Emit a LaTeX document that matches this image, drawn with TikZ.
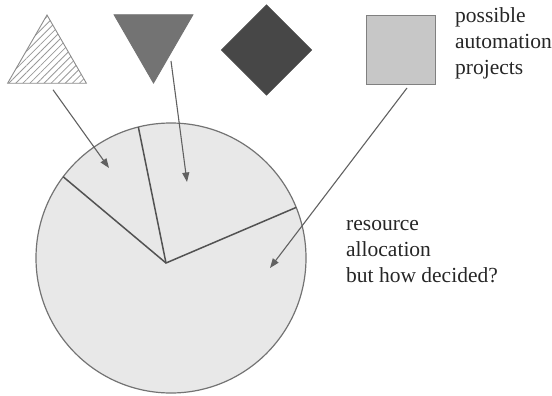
\documentclass[tikz,border=0pt]{standalone}
\usepackage{fontspec}
\setmainfont{Liberation Serif}
\usepackage{xcolor}
\usepackage{tikz}
\usetikzlibrary{positioning,shapes.geometric,patterns.meta,arrows.meta}

\begin{document}
\begin{tikzpicture}[
  x=1pt, y=-1pt,
  proj/.style={draw, inner sep=0pt, outer sep=0pt, line width=0.9pt},
  tri/.style={proj, regular polygon, regular polygon sides=3, minimum size=91pt},
  lbl/.style={font=\fontsize{21.5}{26}\selectfont, text=black!85, align=left, inner sep=0pt, anchor=north west},
  arr/.style={-{Triangle[length=9.5pt,width=7pt]}, line width=1.1pt, draw=black!62},
  slice/.style={line width=1.5pt, draw=black!68}
]
  \useasboundingbox (0,0) rectangle (552,396);

  % ===== PROJECTS =====
  \node[tri, pattern={Lines[angle=45,distance=5pt,line width=0.8pt]}, pattern color=black!40, draw=black!45] (hatch) at (47,60.5) {};
  \node[tri, shape border rotate=180, fill=black!55, draw=black!55] (inv) at (153.5,37.5) {};
  \node[proj, diamond, minimum width=90pt, minimum height=90pt, fill=black!72, draw=black!72] (dia) at (266.5,50) {};
  \node[proj, rectangle, minimum size=69pt, fill=black!22, draw=black!50] (sq) at (400.5,49.5) {};

  \node[lbl] (projlbl) at (455,7) {possible\\automation\\projects};

  % ===== RESOURCES =====
  \node[circle, minimum size=270pt, inner sep=0pt, outer sep=0pt, fill=black!9, draw=black!55, line width=1.2pt] (pie) at (171,258) {};
  \coordinate (hub) at ([shift={(-5,5)}]pie.center);
  \draw[slice] (pie.143.5) -- (hub) -- (pie.22.4);
  \draw[slice] (pie.104.5) -- (hub);

  \node[lbl] (alloclbl) at (346,220.5) {resource\\allocation\\but how decided?};

  % arrows into the pie
  \coordinate (tipA) at (109,168);
  \coordinate (tipB) at (187,182);
  \coordinate (tipC) at (270,268);
  \draw[arr] ([xshift=6pt,yshift=-6.5pt]hatch.south) -- (tipA);
  \draw[arr] ([xshift=17.5pt,yshift=-23.5pt]inv.center) -- (tipB);
  \draw[arr] ([xshift=6.5pt,yshift=-4pt]sq.south) -- (tipC);
\end{tikzpicture}
\end{document}
